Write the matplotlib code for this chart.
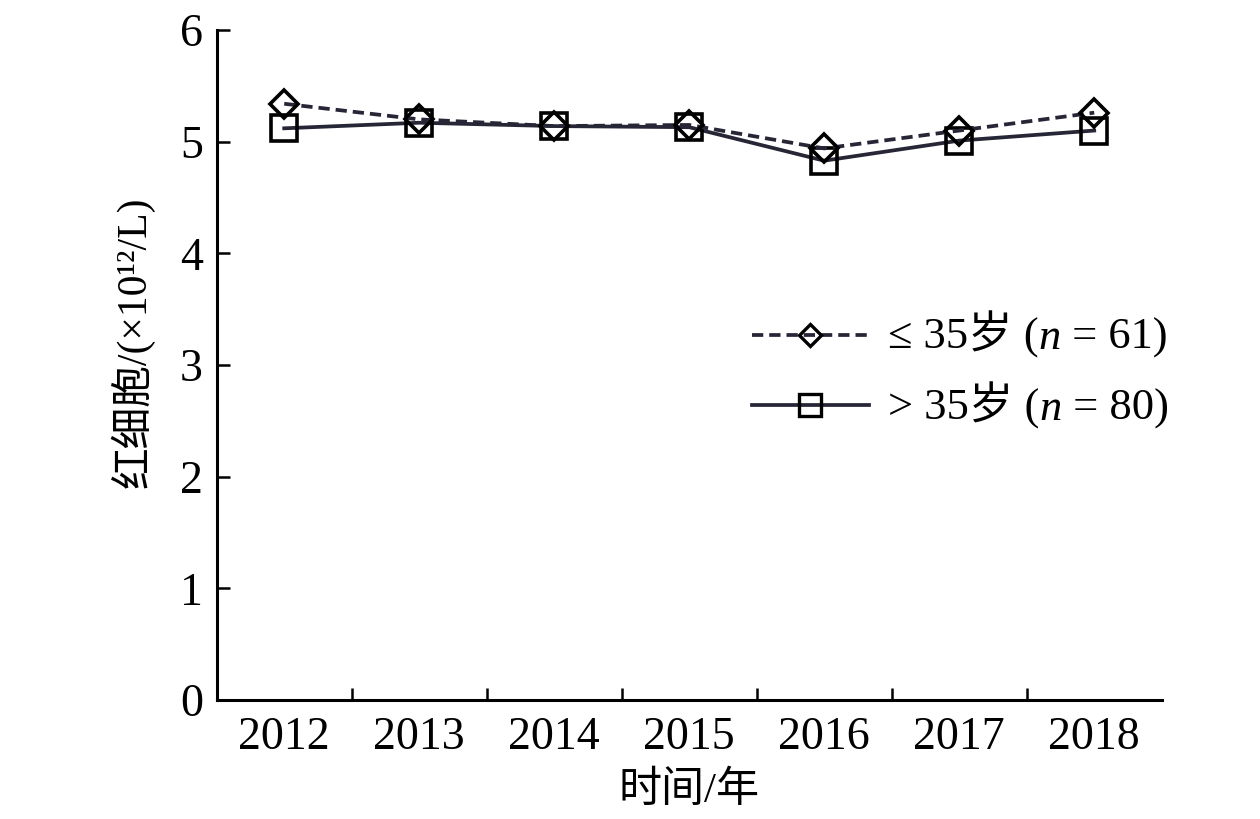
import matplotlib
matplotlib.use("Agg")
import matplotlib.pyplot as plt
import numpy as np
from matplotlib.offsetbox import TextArea, HPacker, VPacker, DrawingArea, AnchoredOffsetbox
from matplotlib.lines import Line2D

years = ["2012", "2013", "2014", "2015", "2016", "2017", "2018"]
young = [5.34, 5.20, 5.14, 5.15, 4.94, 5.10, 5.26]
old = [5.12, 5.17, 5.14, 5.13, 4.83, 5.01, 5.10]
label_young = ["≤ 35岁 (", "n", " = 61)"]
label_old = ["> 35岁 (", "n", " = 80)"]
yticks = [0, 1, 2, 3, 4, 5, 6]

FAM = ['Liberation Serif', 'Noto Sans CJK SC', 'DejaVu Sans']
plt.rcParams['font.family'] = FAM

fig = plt.figure(figsize=(12.6, 8.19), dpi=100)
ax = fig.add_axes([0.172, 0.1453, 0.750, 0.818])

x = np.arange(len(years))
line_color = '#262636'
LW = 2.7
MEW = 2.6
DASH = (3, 1.6)
ax.plot(x, old, '-', color=line_color, lw=LW, marker='s', markersize=19,
        markerfacecolor='none', markeredgecolor='black', markeredgewidth=MEW,
        zorder=3)
ax.plot(x, young, '--', color=line_color, lw=LW, marker='D', markersize=14,
        markerfacecolor='none', markeredgecolor='black', markeredgewidth=MEW,
        dashes=DASH, zorder=4)

ax.set_xlim(-0.5, len(years) - 0.5)
ax.set_ylim(0, 6)
ax.set_yticks(yticks)
ax.set_yticklabels([str(v) for v in yticks])
ax.set_xticks(x)
ax.set_xticklabels(years)
ax.set_xticks(np.arange(0.5, len(years) - 0.5, 1.0), minor=True)
ax.tick_params(axis='x', which='major', length=0, labelsize=33, pad=12)
ax.tick_params(axis='x', which='minor', direction='in', length=9, width=1.8)
ax.tick_params(axis='y', which='major', direction='in', length=9, width=1.8,
               labelsize=33, pad=10)

for s in ['top', 'right']:
    ax.spines[s].set_visible(False)
for s in ['left', 'bottom']:
    ax.spines[s].set_linewidth(2.2)

ax.set_xlabel("时间/年", fontsize=31, labelpad=9)
ax.set_ylabel("红细胞/(×10¹²/L)", fontsize=30)
ax.yaxis.set_label_coords(-0.066, 0.534)


def legend_row(ls, dashes, marker, ms, parts):
    w, h = 84, 20
    da = DrawingArea(w, h, 0, 0)
    ln = Line2D([0, w], [h / 2, h / 2], color=line_color, lw=LW, linestyle=ls)
    if dashes is not None:
        ln.set_dashes(dashes)
    da.add_artist(ln)
    mk = Line2D([w / 2], [h / 2], marker=marker, markersize=ms, linestyle='none',
                markerfacecolor='none', markeredgecolor='black', markeredgewidth=2.4)
    da.add_artist(mk)
    tas = []
    for i, t in enumerate(parts):
        style = 'italic' if i == 1 else 'normal'
        tas.append(TextArea(t, textprops=dict(fontsize=32, family=FAM, style=style)))
    txt = HPacker(children=tas, align='baseline', pad=0, sep=0)
    return HPacker(children=[da, txt], align='center', pad=0, sep=14)


rows = VPacker(children=[legend_row('--', DASH, 'D', 11, label_young),
                         legend_row('-', None, 's', 16, label_old)],
               align='left', pad=0, sep=17)
anch = AnchoredOffsetbox(loc='center left', child=rows, pad=0, borderpad=0,
                         frameon=False, bbox_to_anchor=(752 / 1260, 1 - 370 / 819),
                         bbox_transform=fig.transFigure)
fig.add_artist(anch)

fig.savefig("out.png", dpi=100)
